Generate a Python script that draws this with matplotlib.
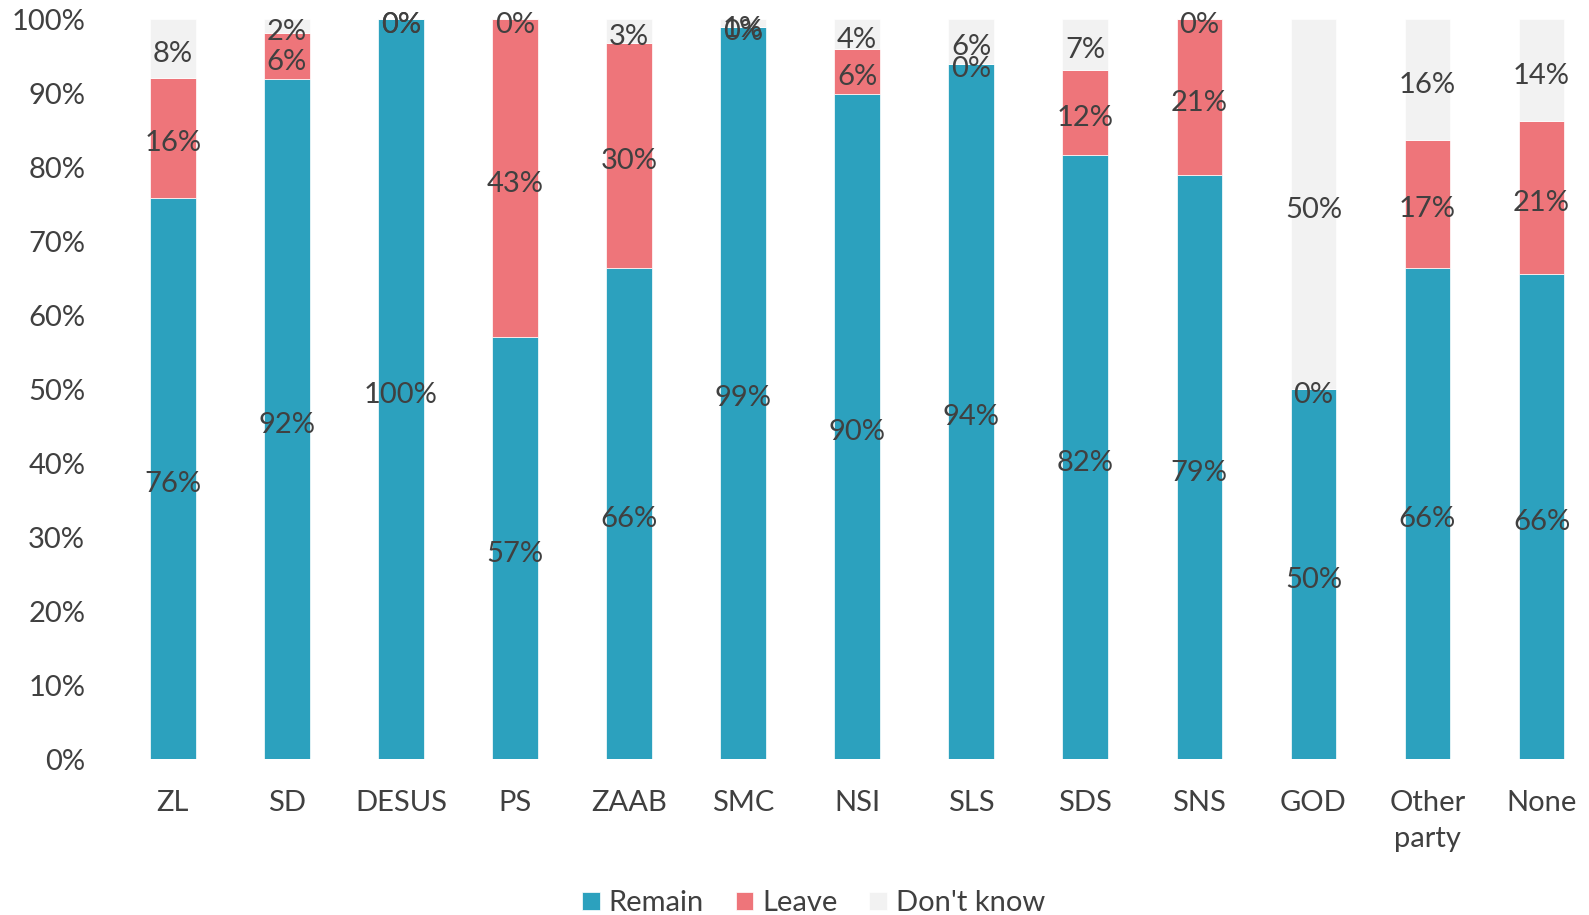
import matplotlib
matplotlib.use("Agg")
import matplotlib.pyplot as plt
import numpy as np

parties = ["ZL", "SD", "DESUS", "PS", "ZAAB", "SMC", "NSI", "SLS", "SDS", "SNS", "GOD", "Other\nparty", "None"]
remain = [75.9, 91.9, 100.0, 57.0, 66.4, 99.0, 89.9, 94.0, 81.6, 78.9, 50.0, 66.4, 65.6]
leave = [16.2, 6.2, 0.0, 43.0, 30.4, 0.0, 6.1, 0.0, 11.6, 21.1, 0.0, 17.3, 20.6]
dont_know = [7.9, 1.9, 0.0, 0.0, 3.2, 1.0, 4.0, 6.0, 6.8, 0.0, 50.0, 16.3, 13.8]

series = [("Remain", remain, "#2ca1be"),
          ("Leave", leave, "#ee757a"),
          ("Don't know", dont_know, "#f2f2f2")]

TXT = "#404040"
plt.rcParams["font.family"] = ["Lato", "DejaVu Sans"]

fig = plt.figure(figsize=(15.89, 9.15), dpi=100, facecolor="white")
W, H = 1589, 915
ax = fig.add_axes([115.8 / W, (H - 759) / H, 13 * 114.06 / W, (759 - 19.3) / H])

x = np.arange(len(parties))
bottom = np.zeros(len(parties))
for name, vals, col in series:
    vals = np.array(vals, dtype=float)
    ax.bar(x, vals, width=0.4, bottom=bottom, color=col, label=name,
           edgecolor="white", linewidth=0.5)
    # labels sit a touch low, like the old-style digits of the original
    for xi, b, v in zip(x, bottom, vals):
        ax.annotate(f"{v:.0f}%", (xi, b + v / 2), xytext=(0, -4),
                    textcoords="offset points", ha="center", va="center",
                    fontsize=21, color=TXT)
    bottom += vals

ax.set_xlim(-0.5, 12.5)
ax.set_ylim(0, 100)
ax.set_yticks(np.arange(0, 101, 10))
ax.set_yticklabels([f"{v}%" for v in range(0, 101, 10)])
ax.set_xticks(x)
ax.set_xticklabels(parties, linespacing=1.5)
ax.tick_params(axis="y", length=0, pad=22, labelsize=21, labelcolor=TXT)
ax.tick_params(axis="x", length=0, pad=22, labelsize=21, labelcolor=TXT)
for s in ax.spines.values():
    s.set_visible(False)

fig.legend(loc="lower center", bbox_to_anchor=(0.512, -0.03), ncol=3,
           frameon=False, fontsize=21, labelcolor=TXT, handlelength=0.6,
           handleheight=0.6, handletextpad=0.3, columnspacing=1.1)

fig.savefig("out.png", dpi=100, facecolor="white")
